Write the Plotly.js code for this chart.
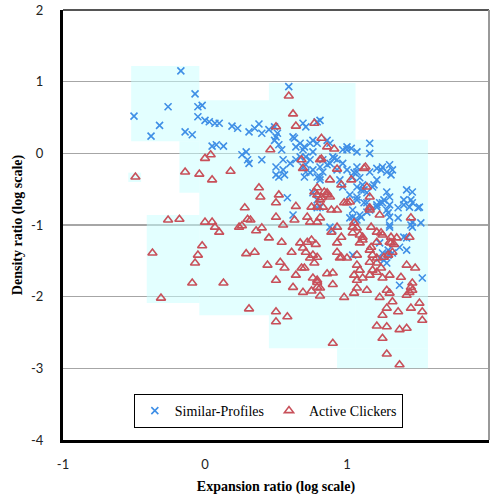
<!DOCTYPE html>
<html>
<head>
<meta charset="utf-8">
<script src="https://cdn.plot.ly/plotly-3.0.1.min.js"></script>
<style>html,body{margin:0;padding:0;background:#fff;}#chart{width:492px;height:496px;}</style>
</head>
<body>
<div id="chart"></div>
<script>
// Similar-Profiles (blue x markers): log expansion ratio, log density ratio
var simX = [-0.17,-0.07,-0.26,-0.50,-0.32,-0.38,-0.05,-0.02,-0.05,0.00,0.03,0.07,0.10,-0.14,-0.09,0.19,0.23,0.05,0.08,0.13,0.31,0.35,0.38,0.40,0.45,0.51,0.49,0.52,0.54,0.26,0.29,0.30,0.31,0.40,0.50,0.52,0.56,0.60,0.64,0.63,0.64,0.67,0.69,0.71,0.79,0.81,0.70,0.74,0.79,0.76,0.71,0.74,0.70,0.81,0.79,0.83,0.88,0.90,0.93,0.88,0.93,0.97,1.00,1.03,1.07,1.05,0.58,0.95,0.97,1.02,1.07,0.81,0.83,0.59,0.49,0.50,0.62,0.76,0.86,0.69,0.55,0.50,0.55,0.67,0.71,0.74,0.69,0.71,0.76,0.81,0.86,0.91,0.97,1.00,1.07,1.16,1.16,1.00,1.04,1.07,1.09,1.11,1.16,1.21,1.25,1.30,1.32,1.28,1.31,1.07,1.10,1.07,1.14,1.18,1.21,0.76,0.79,0.81,1.04,1.09,1.16,1.21,1.28,1.30,1.36,1.42,1.40,1.24,1.19,1.28,1.30,1.26,1.30,1.23,1.12,1.12,1.46,1.45,1.40,1.46,1.50,1.36,1.30,1.45,1.52,1.04,1.07,1.14,1.37,1.42,1.29,1.10,1.02,1.14,1.21,1.25,1.29,1.30,1.44,1.51,1.46,1.46,0.62,0.79,0.88,0.90,1.04,1.25,1.29,1.32,1.26,1.28,1.23,1.37,1.53,1.40,1.23,1.42];
var simY = [1.15,0.83,0.65,0.52,0.39,0.24,0.65,0.67,0.51,0.46,0.44,0.42,0.42,0.30,0.26,0.38,0.35,0.10,0.12,0.10,0.30,0.35,0.41,0.28,0.33,0.28,0.18,0.12,0.05,-0.02,0.02,-0.09,-0.14,-0.09,-0.19,-0.33,-0.30,-0.14,-0.09,0.21,0.09,0.14,0.42,0.37,0.44,0.46,0.09,0.14,0.14,0.02,-0.16,-0.27,-0.33,-0.19,-0.33,-0.09,0.14,-0.05,-0.09,-0.14,-0.23,-0.14,0.05,0.07,-0.19,-0.27,-0.62,-0.37,-0.47,-0.58,-0.65,-0.37,-0.26,0.93,0.37,0.23,0.23,0.18,0.18,0.05,-0.09,-0.30,-0.23,-0.05,-0.05,-0.09,-0.19,-0.26,-0.23,-0.33,-0.16,-0.07,0.05,0.09,0.02,0.14,0.00,-0.23,-0.33,-0.26,-0.34,-0.44,-0.26,-0.21,-0.19,-0.16,-0.23,-0.26,-0.30,-0.47,-0.51,-0.61,-0.55,-0.47,-0.37,-0.55,-0.65,-0.75,-0.79,-0.86,-0.79,-0.72,-0.79,-0.89,-0.76,-0.51,-0.65,-0.23,-0.44,-0.54,-0.61,-0.65,-0.72,-0.69,-0.51,-0.69,-0.54,-0.65,-0.72,-0.69,-0.76,-0.90,-1.03,-1.00,-0.97,-0.89,-0.93,-0.82,-1.31,-1.35,-1.42,-0.89,-0.90,-0.69,-0.75,-0.69,-0.83,-1.00,-0.75,-0.75,-0.96,-1.03,-0.86,-0.76,-1.03,-1.07,-1.42,-1.39,-1.35,-1.39,-1.49,-1.53,-1.46,-1.84,-1.74,-1.17,-1.25,-1.18];

// Active Clickers (red triangle markers)
var actX = [-0.49,-0.14,-0.04,0.05,0.18,0.00,0.04,0.46,0.50,0.38,0.39,-0.26,-0.18,0.00,0.05,0.07,0.10,-0.37,-0.02,-0.05,-0.07,-0.09,-0.31,0.13,0.28,0.52,0.50,0.26,0.30,0.32,0.36,0.40,0.45,0.50,0.55,0.54,0.29,0.35,0.44,0.53,0.56,0.50,0.31,0.50,0.50,0.58,0.64,0.63,0.72,0.79,0.81,0.74,0.79,0.61,0.67,0.69,0.72,0.75,0.78,0.71,0.74,0.76,0.79,0.77,0.70,0.64,0.62,0.69,0.75,0.79,0.79,0.81,0.86,0.90,0.90,0.96,1.00,1.07,1.07,1.05,0.98,0.90,0.89,0.93,0.96,0.93,1.04,1.04,0.83,0.89,0.93,1.00,1.16,1.23,1.45,1.05,1.07,1.09,1.11,1.17,1.21,1.24,1.44,1.30,1.09,1.11,1.21,1.31,1.33,0.93,1.07,1.16,1.18,1.21,1.26,1.29,1.32,0.68,0.95,1.07,1.09,1.16,1.18,1.21,1.24,1.42,1.48,0.76,0.79,1.05,1.11,1.16,1.21,1.25,1.30,1.38,1.46,1.45,0.81,1.14,1.28,1.23,1.30,1.42,1.44,1.46,1.28,1.25,1.36,1.45,1.51,1.53,1.53,1.32,1.21,1.28,1.37,1.42,1.25,1.28,1.37,0.59,0.62,0.64,0.77,0.82,0.86,0.91,0.68,0.69,0.82,1.13,1.03,0.96,0.77,0.79,0.86,0.88,0.82,1.16,1.14,0.98,1.02,0.88,0.79,0.84,0.81,0.86,1.16,1.12,0.93,0.81,1.25,1.31,1.35,1.17,0.75,0.24];
var actY = [-0.33,-0.26,-0.29,-0.37,-0.25,-0.07,-0.02,0.05,0.37,-0.48,-0.61,-0.93,-0.92,-0.96,-0.96,-1.03,-1.10,-1.39,-1.29,-1.42,-1.53,-1.81,-2.02,-1.81,-0.76,-0.58,-0.69,-1.01,-0.92,-0.93,-1.08,-1.04,-1.18,-0.89,-1.00,-1.24,-1.40,-1.38,-1.56,-1.52,-1.60,-1.77,-2.17,-2.21,-2.35,-2.28,-0.74,-0.93,-0.89,-0.75,-0.90,-0.96,-0.96,-1.38,-1.25,-1.32,-1.24,-1.21,-1.27,-1.38,-1.46,-1.42,-1.45,-1.53,-1.60,-1.70,-1.87,-1.94,-1.92,-1.77,-1.87,-1.99,-1.68,-1.67,-1.83,-1.45,-1.46,-1.77,-1.88,-1.95,-2.01,-2.65,-1.10,-1.25,-1.17,-1.03,-1.03,-1.11,-0.75,-0.79,-0.79,-0.69,-0.79,-0.86,-0.90,-0.97,-1.04,-1.14,-1.17,-1.03,-1.10,-1.11,-1.17,-1.24,-1.25,-1.21,-1.24,-1.25,-1.27,-1.38,-1.42,-1.35,-1.42,-1.46,-1.45,-1.42,-1.38,-1.60,-1.46,-1.56,-1.63,-1.52,-1.63,-1.53,-1.60,-1.56,-1.60,-1.74,-1.80,-1.70,-1.74,-1.70,-1.66,-1.74,-1.70,-1.73,-1.81,-1.87,-1.88,-1.91,-1.91,-2.01,-1.95,-1.98,-1.94,-1.91,-2.16,-2.26,-2.21,-2.16,-2.09,-2.21,-2.33,-2.07,-2.41,-2.42,-2.46,-2.44,-2.58,-2.80,-2.95,0.80,0.55,0.38,0.42,0.21,0.09,0.06,-0.09,-0.21,-0.08,-0.19,-0.37,-0.44,-0.54,-0.58,-0.55,-0.61,-0.62,-0.61,-0.47,-0.69,-0.68,-0.37,-0.48,-0.54,-0.65,-0.58,-0.76,-0.21,-0.22,-0.09,-1.14,-1.17,-1.18,-1.31,-0.75,-1.03];

// Shaded background regions (data coordinates)
var shadeX0 = [-0.52,-0.18,-0.04,0.45,1.06,0.93,-0.41,-0.54];
var shadeX1 = [-0.04,-0.04,0.45,1.06,1.57,1.57,-0.04,-0.45];
var shadeY0 = [0.17,-0.55,-2.26,-2.72,-2.72,-3.00,-2.09,-0.40];
var shadeY1 = [1.22,0.17,0.74,0.98,0.19,-2.72,-0.86,-0.27];

var xTicks = [-1,0,1,2];
var yTicks = [-4,-3,-2,-1,0,1,2];

var shapes = [];
for (var i = 0; i < shadeX0.length; i++) {
  shapes.push({type:'rect', xref:'x', yref:'y', x0:shadeX0[i], x1:shadeX1[i], y0:shadeY0[i], y1:shadeY1[i],
    fillcolor:'rgb(200,255,255)', opacity:0.5, line:{width:0}, layer:'between'});
}
shapes.push({type:'line', xref:'paper', yref:'paper', x0:0, x1:1, y0:1, y1:1, line:{color:'#555', width:2}, layer:'above'});
shapes.push({type:'line', xref:'paper', yref:'paper', x0:1, x1:1, y0:0, y1:1, line:{color:'#999', width:2}, layer:'above'});

var traces = [
  {type:'scatter', mode:'markers', name:'Similar-Profiles', x:simX, y:simY,
   marker:{symbol:'x-thin-open', size:7, color:'#3f8fe6', line:{width:1.6, color:'#3f8fe6'}}},
  {type:'scatter', mode:'markers', name:'Active Clickers', x:actX, y:actY,
   marker:{symbol:'triangle-up-open', size:8, color:'#c8505a', line:{width:1.6, color:'#c8505a'}}}
];

var tickFont = {family:'Lato, "Open Sans", sans-serif', size:13, color:'#222'};
var titleFont = {family:'"Liberation Serif", "Times New Roman", serif', size:14, color:'#000', weight:'bold'};

var layout = {
  width:492, height:496,
  margin:{l:63, r:3, t:10, b:56},
  paper_bgcolor:'#fff', plot_bgcolor:'#fff',
  showlegend:true,
  legend:{orientation:'h', x:0.482, xanchor:'center', y:0.107, yanchor:'top',
    itemwidth:30, bgcolor:'#fff', bordercolor:'#000', borderwidth:1,
    font:{family:'"Liberation Serif", "Times New Roman", serif', size:14, color:'#000'}},
  xaxis:{range:[-1,2], tickvals:xTicks, ticktext:xTicks.map(String), showgrid:false, zeroline:false,
    showline:true, linecolor:'#000', linewidth:3, ticks:'', tickfont:tickFont, ticklabelstandoff:10,
    title:{text:'Expansion ratio (log scale)', font:titleFont, standoff:11}},
  yaxis:{range:[-4,2], tickvals:yTicks, ticktext:yTicks.map(String), showgrid:true, gridcolor:'#a6a6a6', gridwidth:1.5,
    zeroline:false, showline:true, linecolor:'#000', linewidth:3, ticks:'', tickfont:tickFont, ticklabelstandoff:14,
    title:{text:'Density ratio (log scale)', font:titleFont, standoff:6}},
  shapes:shapes
};

Plotly.newPlot('chart', traces, layout, {displayModeBar:false, staticPlot:true});
</script>
</body>
</html>
